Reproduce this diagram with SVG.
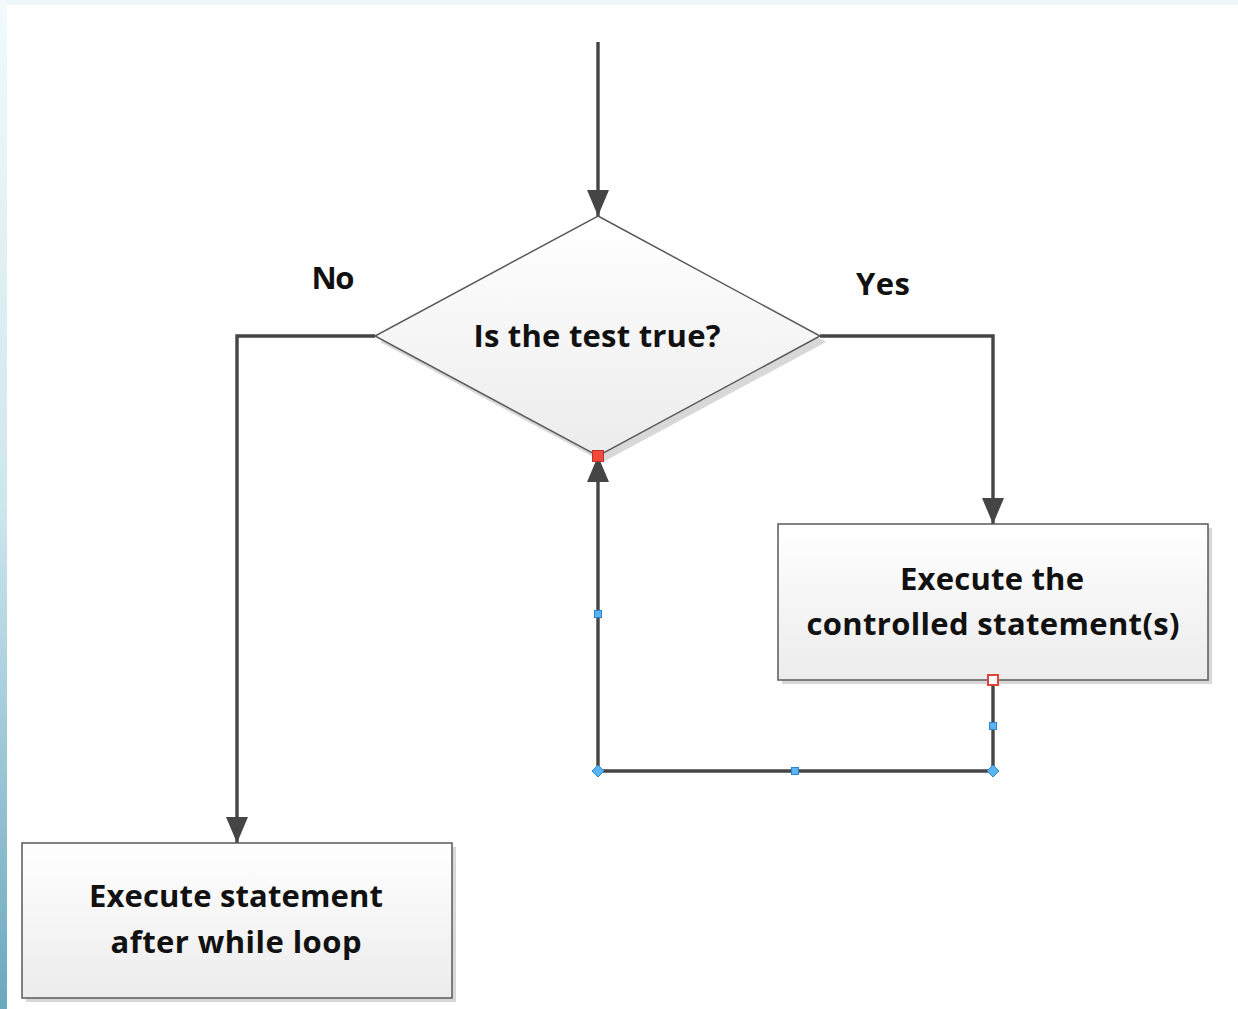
<svg xmlns="http://www.w3.org/2000/svg" width="1238" height="1009" viewBox="0 0 1238 1009">
<style>
.ln{fill:none;stroke:#454545;stroke-width:3.4}
.t{font-family:"Open Sans","Noto Sans",sans-serif;font-weight:bold;font-size:31px;fill:#111;text-anchor:middle}
.box{fill:url(#g);stroke:#5a5a5a;stroke-width:1.5}
.sh{fill:#d8d8d8}
.hb{fill:#5ab4f2;stroke:#2b86d0;stroke-width:1}
</style>
<defs>
<linearGradient id="g" x1="0" y1="0" x2="0" y2="1">
<stop offset="0" stop-color="#ffffff"/><stop offset="1" stop-color="#ececec"/>
</linearGradient>
<linearGradient id="side" x1="0" y1="0" x2="0" y2="1">
<stop offset="0" stop-color="#f2fafc"/><stop offset="0.5" stop-color="#cfe6ee"/><stop offset="1" stop-color="#6aa8bf"/>
</linearGradient>
<marker id="ah" viewBox="0 0 26 22" refX="26" refY="11" markerWidth="26" markerHeight="22" markerUnits="userSpaceOnUse" orient="auto">
<path d="M0,0 L26,11 L0,22 Z" fill="#454545"/>
</marker>
</defs>
<rect width="1238" height="1009" fill="#ffffff"/>
<rect x="0" y="0" width="1238" height="5" fill="#eef7fa"/>
<rect x="0" y="0" width="7" height="1009" fill="url(#side)"/>
<g id="connectors">
<line class="ln" x1="598" y1="42" x2="598" y2="216" marker-end="url(#ah)"/>
<polyline class="ln" points="375,336 237,336 237,843" marker-end="url(#ah)"/>
<polyline class="ln" points="820,336 993,336 993,524" marker-end="url(#ah)"/>
<polyline class="ln" points="993,680 993,771 598,771 598,456" marker-end="url(#ah)"/>
</g>
<g id="decision">
<polygon class="sh" points="603,222 826,342 603,462 380,342"/>
<polygon class="box" points="598,216 820,336 598,456 375,336"/>
<text class="t" x="597" y="347" textLength="247">Is the test true?</text>
</g>
<g id="label-no"><text class="t" x="333" y="289" textLength="43">No</text></g>
<g id="label-yes"><text class="t" x="883" y="295" textLength="54">Yes</text></g>
<g id="controlled">
<rect class="sh" x="782" y="528" width="430" height="156"/>
<rect class="box" x="778" y="524" width="430" height="156"/>
<text class="t" x="992" y="590" textLength="184">Execute the</text>
<text class="t" x="993" y="635" textLength="373">controlled statement(s)</text>
</g>
<g id="after">
<rect class="sh" x="26" y="847" width="430" height="155"/>
<rect class="box" x="22" y="843" width="430" height="155"/>
<text class="t" x="236" y="907" textLength="294">Execute statement</text>
<text class="t" x="236" y="953" textLength="251">after while loop</text>
</g>
<g id="handles">
<rect x="592.5" y="450.5" width="11" height="11" fill="#f04a3a" stroke="#c0302a" stroke-width="1"/>
<rect x="988" y="675" width="10" height="10" fill="#ffffff" stroke="#e0453a" stroke-width="2"/>
<rect class="hb" x="594.5" y="610.5" width="7" height="7"/>
<rect class="hb" x="989.5" y="722.5" width="7" height="7"/>
<rect class="hb" x="791.5" y="767.5" width="7" height="7"/>
<polygon class="hb" points="598,765 604,771 598,777 592,771"/>
<polygon class="hb" points="993,765 999,771 993,777 987,771"/>
</g>
</svg>
